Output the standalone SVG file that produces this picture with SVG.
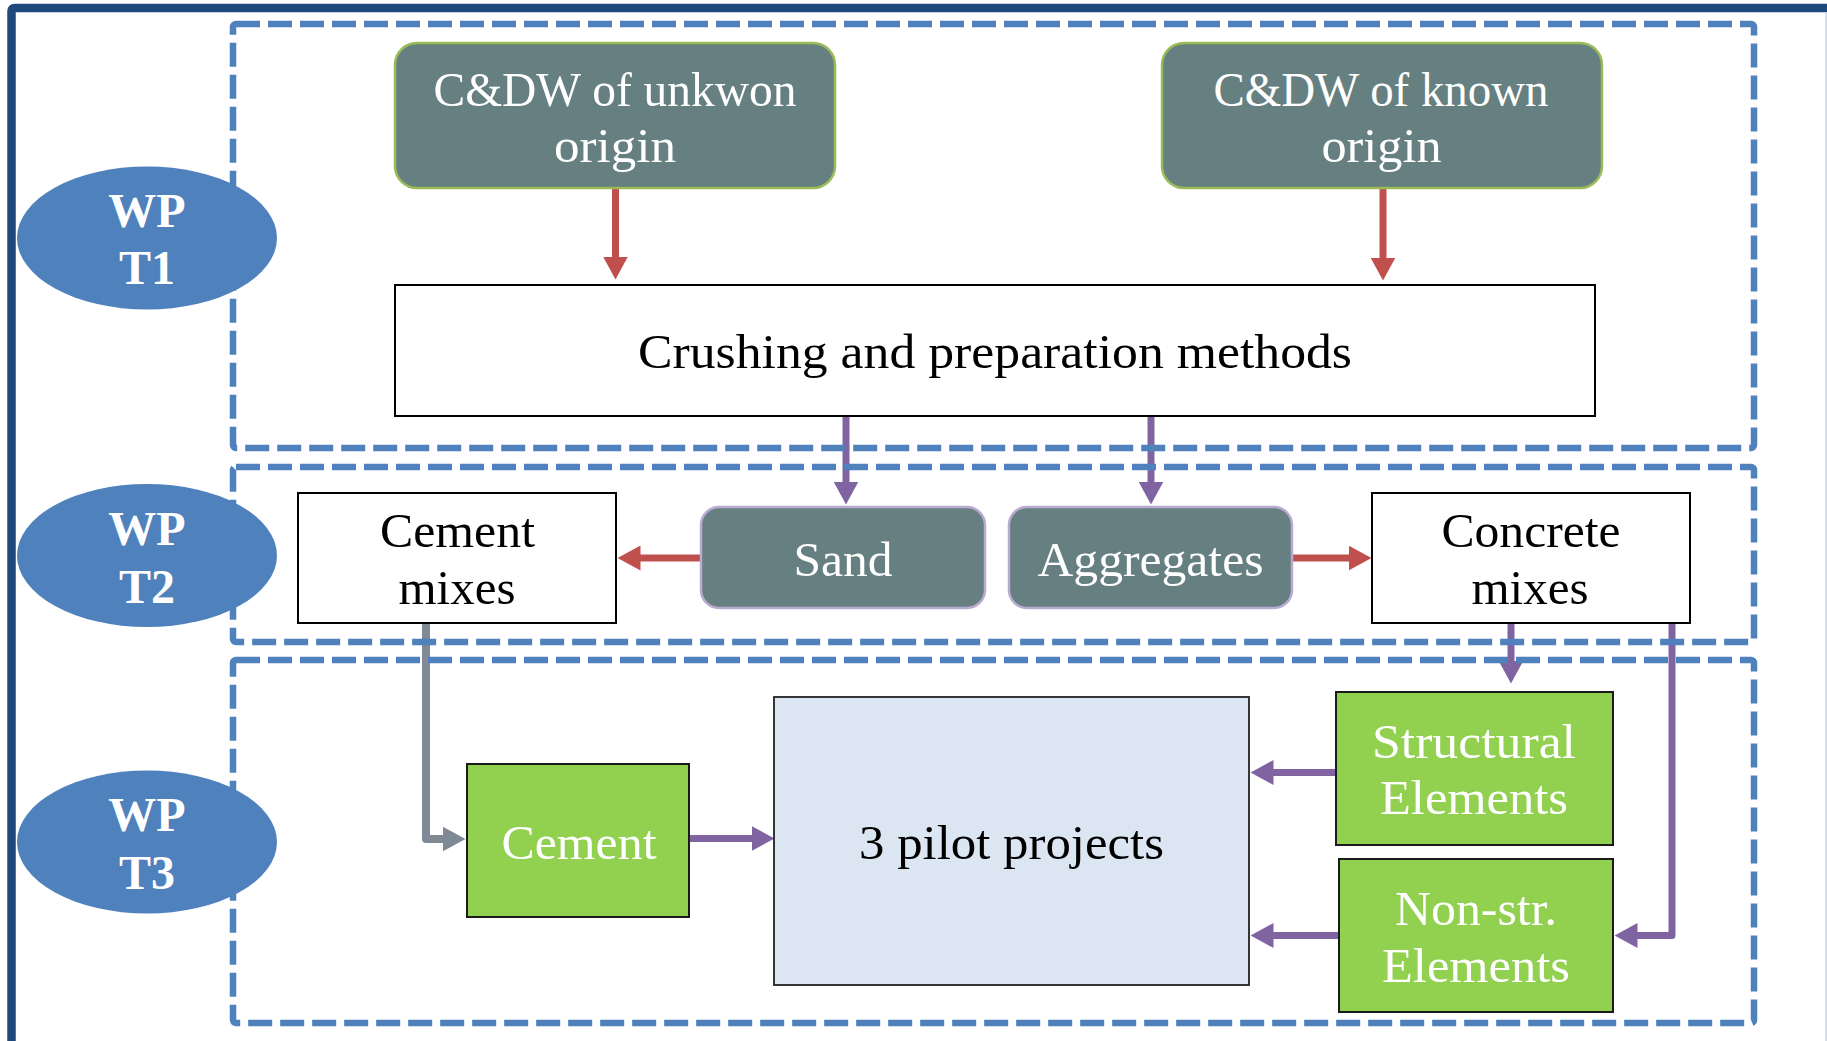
<svg xmlns="http://www.w3.org/2000/svg" width="1827" height="1041" viewBox="0 0 1827 1041">
  <defs>
    <style>
      .lane { fill: none; stroke: #4F81BD; stroke-width: 6.5; stroke-dasharray: 24 8; }
      .wp { fill: #4F81BD; }
      .wpt { font-family: "Liberation Serif", "Times New Roman", serif; font-weight: bold; font-size: 48px; fill: #FFFFFF; text-anchor: middle; }
      .t { font-family: "Liberation Serif", "Times New Roman", serif; font-size: 49px; text-anchor: middle; }
      .w { fill: #FFFFFF; }
      .k { fill: #000000; }
      .src { fill: #667F80; stroke: #9BBB59; stroke-width: 2.5; }
      .mat { fill: #667F80; stroke: #B9AAD2; stroke-width: 2.5; }
      .plain { fill: #FFFFFF; stroke: #000000; stroke-width: 2; }
      .green { fill: #92D050; stroke: #1A1A1A; stroke-width: 2; }
      .pilot { fill: #DCE6F2; stroke: #222222; stroke-width: 1.8; }
      .c { fill: none; stroke-width: 7; stroke-linejoin: round; }
      .red { stroke: #C0504D; }
      .pur { stroke: #8064A2; }
      .gry { stroke: #7F8A96; stroke-width: 8; }
    </style>
    <marker id="headRed" markerUnits="userSpaceOnUse" viewBox="0 0 23 25" markerWidth="23" markerHeight="25" refX="0.5" refY="12.5" orient="auto">
      <path d="M0,0 L23,12.5 L0,25 z" fill="#C0504D"/>
    </marker>
    <marker id="headPur" markerUnits="userSpaceOnUse" viewBox="0 0 23 25" markerWidth="23" markerHeight="25" refX="0.5" refY="12.5" orient="auto">
      <path d="M0,0 L23,12.5 L0,25 z" fill="#8064A2"/>
    </marker>
    <marker id="headGry" markerUnits="userSpaceOnUse" viewBox="0 0 23 25" markerWidth="23" markerHeight="25" refX="0.5" refY="12.5" orient="auto">
      <path d="M0,0 L23,12.5 L0,25 z" fill="#7F8A96"/>
    </marker>
  </defs>

  <rect width="1827" height="1041" fill="#FFFFFF"/>

  <!-- page frame -->
  <rect x="11.5" y="8" width="1900" height="1100" rx="3" fill="none" stroke="#1F497D" stroke-width="8.5"/>
  <line x1="1826" y1="12" x2="1826" y2="1041" stroke="#C9D5E8" stroke-width="1.5"/>

  <!-- connectors -->
  <g id="connectors">
    <path class="c red" d="M615.5,189 V257" marker-end="url(#headRed)"/>
    <path class="c red" d="M1383,189 V258" marker-end="url(#headRed)"/>
    <path class="c pur" d="M846,416 V482" marker-end="url(#headPur)"/>
    <path class="c pur" d="M1151,416 V482" marker-end="url(#headPur)"/>
    <path class="c red" d="M701,558 H640" marker-end="url(#headRed)"/>
    <path class="c red" d="M1292,558 H1349" marker-end="url(#headRed)"/>
    <path class="c gry" d="M426,624 V839 H443" marker-end="url(#headGry)"/>
    <path class="c pur" d="M689,838.5 H752" marker-end="url(#headPur)"/>
    <path class="c pur" d="M1511,624 V661" marker-end="url(#headPur)"/>
    <path class="c pur" d="M1335,772.5 H1273" marker-end="url(#headPur)"/>
    <path class="c pur" d="M1339,935.5 H1273" marker-end="url(#headPur)"/>
    <path class="c pur" d="M1672,624 V935.5 H1637" marker-end="url(#headPur)"/>
  </g>

  <!-- work package lanes -->
  <g id="lanes">
    <rect class="lane" x="233" y="24" width="1521" height="424" rx="3"/>
    <rect class="lane" x="233" y="467" width="1521" height="175" rx="3"/>
    <rect class="lane" x="233" y="660" width="1521" height="363" rx="3"/>
  </g>

  <g id="wp-t1">
    <ellipse class="wp" cx="147" cy="238" rx="130" ry="71.5"/>
    <text class="wpt" x="147" y="227">WP</text>
    <text class="wpt" x="147" y="284">T1</text>
  </g>
  <g id="wp-t2">
    <ellipse class="wp" cx="147" cy="555.5" rx="130" ry="71.5"/>
    <text class="wpt" x="147" y="545">WP</text>
    <text class="wpt" x="147" y="603">T2</text>
  </g>
  <g id="wp-t3">
    <ellipse class="wp" cx="147" cy="842" rx="130" ry="71.5"/>
    <text class="wpt" x="147" y="831">WP</text>
    <text class="wpt" x="147" y="889">T3</text>
  </g>

  <g id="cdw-unknown">
    <rect class="src" x="395" y="43" width="440" height="145" rx="22"/>
    <text class="t w" x="615" y="106" textLength="363" lengthAdjust="spacingAndGlyphs">C&amp;DW of unkwon</text>
    <text class="t w" x="615" y="162" textLength="122" lengthAdjust="spacingAndGlyphs">origin</text>
  </g>
  <g id="cdw-known">
    <rect class="src" x="1162" y="43" width="440" height="145" rx="22"/>
    <text class="t w" x="1381" y="106" textLength="335" lengthAdjust="spacingAndGlyphs">C&amp;DW of known</text>
    <text class="t w" x="1381.5" y="162" textLength="120" lengthAdjust="spacingAndGlyphs">origin</text>
  </g>
  <g id="crushing">
    <rect class="plain" x="395" y="285" width="1200" height="131"/>
    <text class="t k" x="995" y="368" textLength="714" lengthAdjust="spacingAndGlyphs">Crushing and preparation methods</text>
  </g>
  <g id="sand">
    <rect class="mat" x="701" y="507" width="284" height="101" rx="18"/>
    <text class="t w" x="843" y="576" textLength="99" lengthAdjust="spacingAndGlyphs">Sand</text>
  </g>
  <g id="aggregates">
    <rect class="mat" x="1009" y="507" width="283" height="101" rx="18"/>
    <text class="t w" x="1150.5" y="576" textLength="226" lengthAdjust="spacingAndGlyphs">Aggregates</text>
  </g>
  <g id="cement-mixes">
    <rect class="plain" x="298" y="493" width="318" height="130"/>
    <text class="t k" x="457.5" y="546.5" textLength="155" lengthAdjust="spacingAndGlyphs">Cement</text>
    <text class="t k" x="457" y="604" textLength="117" lengthAdjust="spacingAndGlyphs">mixes</text>
  </g>
  <g id="concrete-mixes">
    <rect class="plain" x="1372" y="493" width="318" height="130"/>
    <text class="t k" x="1531" y="546.5" textLength="179" lengthAdjust="spacingAndGlyphs">Concrete</text>
    <text class="t k" x="1530" y="604" textLength="117" lengthAdjust="spacingAndGlyphs">mixes</text>
  </g>
  <g id="cement">
    <rect class="green" x="467" y="764" width="222" height="153"/>
    <text class="t w" x="579" y="859" textLength="155" lengthAdjust="spacingAndGlyphs">Cement</text>
  </g>
  <g id="pilot-projects">
    <rect class="pilot" x="774" y="697" width="475" height="288"/>
    <text class="t k" x="1011.5" y="859" textLength="305" lengthAdjust="spacingAndGlyphs">3 pilot projects</text>
  </g>
  <g id="structural">
    <rect class="green" x="1336" y="692" width="277" height="153"/>
    <text class="t w" x="1474" y="758" textLength="204" lengthAdjust="spacingAndGlyphs">Structural</text>
    <text class="t w" x="1474" y="814" textLength="188" lengthAdjust="spacingAndGlyphs">Elements</text>
  </g>
  <g id="non-structural">
    <rect class="green" x="1339" y="859" width="274" height="153"/>
    <text class="t w" x="1476" y="925" textLength="162" lengthAdjust="spacingAndGlyphs">Non-str.</text>
    <text class="t w" x="1476" y="982" textLength="188" lengthAdjust="spacingAndGlyphs">Elements</text>
  </g>
</svg>
